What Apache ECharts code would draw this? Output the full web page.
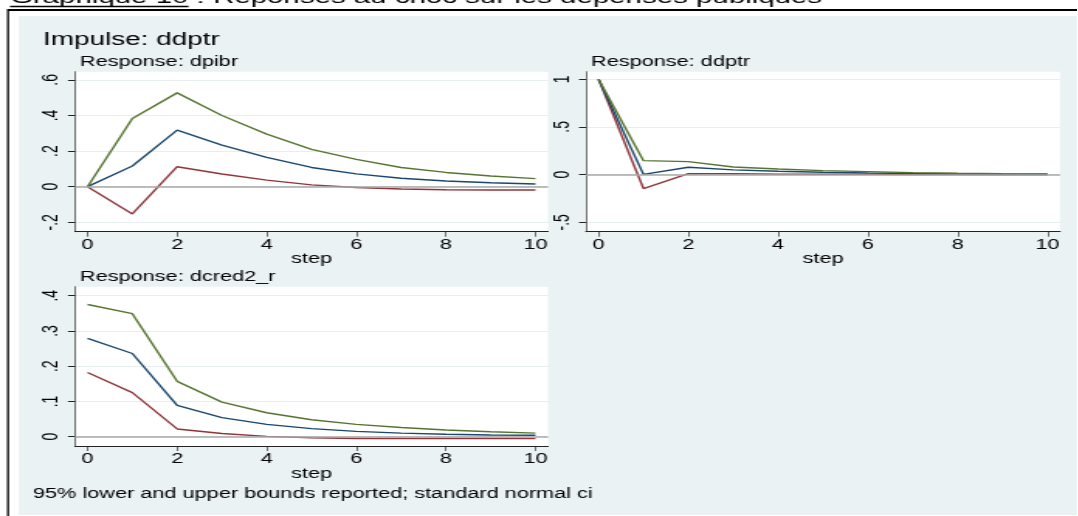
<!DOCTYPE html>
<html>
<head>
<meta charset="utf-8">
<script src="https://cdn.jsdelivr.net/npm/echarts@6/dist/echarts.min.js"></script>
<style>
html,body{margin:0;padding:0;background:#fff;overflow:hidden}
#wrap{position:relative;width:1078px;height:516px;overflow:hidden}
#chart{position:absolute;left:0;top:0;height:516px;transform-origin:0 0}
</style>
</head>
<body>
<div id="wrap"><div id="chart"></div></div>
<script>
// the picture is stretched sideways: text comes out wider than tall
const SX = 1.55
const FONT = '"Liberation Sans", Arial, Helvetica, sans-serif'

const steps = [0, 1, 2, 3, 4, 5, 6, 7, 8, 9, 10]
const xTicks = [0, 2, 4, 6, 8, 10]

// Response: dpibr
const dpibrIrf   = [0, 0.116, 0.318, 0.234, 0.165, 0.108, 0.072, 0.047, 0.032, 0.022, 0.015]
const dpibrLower = [0, -0.153, 0.112, 0.071, 0.037, 0.010, -0.005, -0.013, -0.017, -0.019, -0.019]
const dpibrUpper = [0, 0.383, 0.527, 0.400, 0.295, 0.210, 0.153, 0.108, 0.080, 0.060, 0.045]
const dpibrTicks = [-0.2, 0, 0.2, 0.4, 0.6]

// Response: ddptr
const ddptrIrf   = [1, 0.002, 0.077, 0.049, 0.035, 0.024, 0.017, 0.012, 0.008, 0.005, 0.004]
const ddptrLower = [1, -0.146, 0.010, 0.008, 0.005, 0.003, 0.002, 0.001, 0, -0.001, -0.001]
const ddptrUpper = [1, 0.146, 0.136, 0.080, 0.059, 0.042, 0.031, 0.021, 0.014, 0.010, 0.007]
const ddptrTicks = [-0.5, 0, 0.5, 1]

// Response: dcred2_r
const dcredIrf   = [0.279, 0.236, 0.089, 0.054, 0.035, 0.023, 0.015, 0.010, 0.007, 0.005, 0.004]
const dcredLower = [0.182, 0.125, 0.022, 0.009, 0.001, -0.003, -0.005, -0.005, -0.005, -0.005, -0.005]
const dcredUpper = [0.375, 0.349, 0.157, 0.098, 0.068, 0.048, 0.035, 0.026, 0.019, 0.014, 0.010]
const dcredTicks = [0, 0.1, 0.2, 0.3, 0.4]

const blue = '#1a476f', red = '#90353b', green = '#55752f'

// plot regions, in picture pixels
const panels = [
  {x: 75,  y: 71.7,  w: 473, h: 160,   ymin: -0.253, ymax: 0.646, ticks: dpibrTicks, irf: dpibrIrf, lo: dpibrLower, hi: dpibrUpper},
  {x: 586, y: 71.7,  w: 474, h: 160,   ymin: -0.599, ymax: 1.079, ticks: ddptrTicks, irf: ddptrIrf, lo: ddptrLower, hi: ddptrUpper},
  {x: 75,  y: 286.7, w: 473, h: 159.3, ymin: -0.0264, ymax: 0.4255, ticks: dcredTicks, irf: dcredIrf, lo: dcredLower, hi: dcredUpper}
]

function fmt(v){
  const s = String(+(+v).toFixed(2))
  return s.replace(/^(-?)0\./, '$1.')
}
function pairs(arr){ return steps.map((s,i)=>[s, arr[i]]) }

const W = 1078 / SX
const dom = document.getElementById('chart')
dom.style.width = W + 'px'
dom.style.transform = 'scaleX(' + SX + ')'
const myChart = echarts.init(dom, null, {renderer: 'canvas'})

const grid = [], xAxis = [], yAxis = [], series = []
panels.forEach((p, i)=>{
  grid.push({left: p.x / SX, top: p.y, width: p.w / SX, height: p.h, show: true,
    backgroundColor: '#fff', borderWidth: 0, containLabel: false, outerBoundsMode: 'none'})
  xAxis.push({
    type: 'value', gridIndex: i, min: -0.28, max: 10.28,
    name: 'step', nameLocation: 'middle', nameGap: 20,
    nameTextStyle: {color: '#000', fontSize: 14, fontFamily: FONT},
    axisLine: {show: true, onZero: false, lineStyle: {color: '#222', width: 1}},
    axisTick: {show: true, customValues: xTicks, length: 5, lineStyle: {color: '#222', width: 1 / SX}},
    axisLabel: {customValues: xTicks, margin: 6, color: '#000', fontSize: 14, fontFamily: FONT},
    splitLine: {show: false}
  })
  yAxis.push({
    type: 'value', gridIndex: i, min: p.ymin, max: p.ymax,
    axisLine: {show: true, onZero: false, lineStyle: {color: '#222', width: 1 / SX}},
    axisTick: {show: true, customValues: p.ticks, length: 7 / SX, lineStyle: {color: '#222', width: 1}},
    axisLabel: {customValues: p.ticks, rotate: 90, margin: 8, color: '#000', fontSize: 14, fontFamily: FONT, formatter: fmt},
    splitLine: {show: true, lineStyle: {color: '#e6eef0', width: 1}}
  })
  const base = {type: 'line', xAxisIndex: i, yAxisIndex: i, symbol: 'none', clip: false, silent: true}
  series.push(Object.assign({}, base, {
    name: 'lower', data: pairs(p.lo), lineStyle: {color: red, width: 1.4}, z: 3,
    markLine: {silent: true, symbol: 'none', label: {show: false},
      lineStyle: {color: '#a8a8a8', width: 1.6, type: 'solid'}, data: [{yAxis: 0}]}
  }))
  series.push(Object.assign({}, base, {name: 'irf', data: pairs(p.irf), lineStyle: {color: blue, width: 1.4}, z: 4}))
  series.push(Object.assign({}, base, {name: 'upper', data: pairs(p.hi), lineStyle: {color: green, width: 1.4}, z: 4}))
})

// width of the underlined words of the caption
const HEAD = 19
const ctx = document.createElement('canvas').getContext('2d')
ctx.font = HEAD + 'px ' + FONT
const ulW = ctx.measureText('Graphique 10').width

function txt(str, x, y, size){
  return {type: 'text', x: x / SX, y: y, silent: true,
    style: {text: str, fill: '#000', font: size + 'px ' + FONT, align: 'left', verticalAlign: 'middle'}}
}

const option = {
  animation: false,
  backgroundColor: '#fff',
  graphic: [
    {type: 'rect', z: -10, silent: true, shape: {x: 19 / SX, y: 16, width: (1077 - 19) / SX, height: 515 - 16}, style: {fill: '#eaf2f3'}},
    {type: 'line', silent: true, shape: {x1: 8 / SX, y1: 10, x2: W, y2: 10}, style: {stroke: '#000', lineWidth: 2}},
    {type: 'line', silent: true, shape: {x1: 8 / SX, y1: 9, x2: 8 / SX, y2: 516}, style: {stroke: '#000', lineWidth: 2 / SX}},
    txt('Graphique 10 : Réponses au choc sur les dépenses publiques', 10, -2.7, HEAD),
    {type: 'line', silent: true, shape: {x1: 10 / SX, y1: 6.5, x2: 10 / SX + ulW, y2: 6.5}, style: {stroke: '#000', lineWidth: 1.5}},
    txt('Impulse: ddptr', 43, 39.8, 18),
    txt('Response: dpibr', 80, 62.6, 14),
    txt('Response: ddptr', 591, 62.6, 14),
    txt('Response: dcred2_r', 80, 277.6, 14),
    txt('95% lower and upper bounds reported; standard normal ci', 33, 493.8, 14)
  ],
  grid: grid,
  xAxis: xAxis,
  yAxis: yAxis,
  series: series
}
myChart.setOption(option)
</script>
</body>
</html>
